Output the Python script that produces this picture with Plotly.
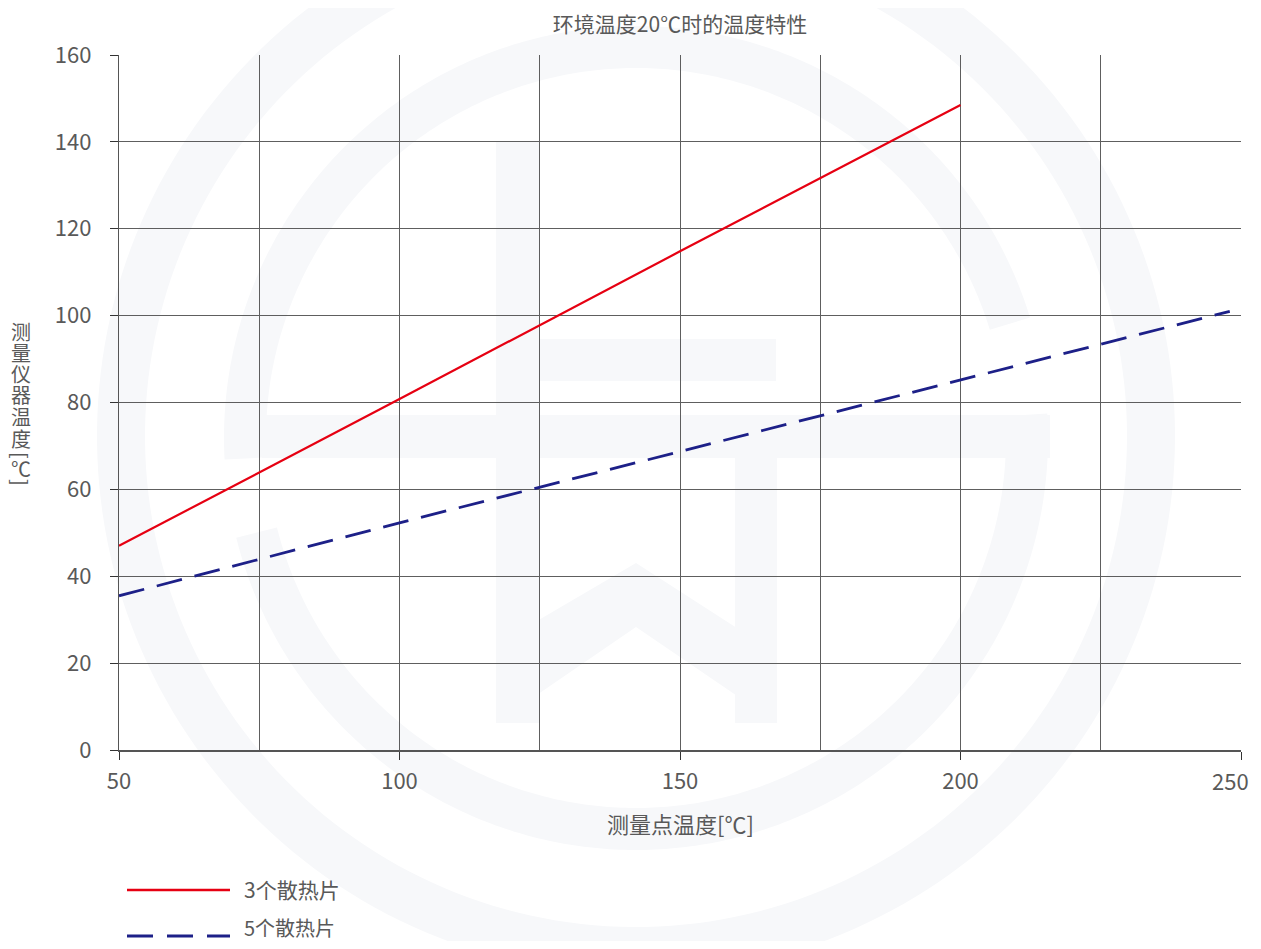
import numpy as np
import plotly.graph_objects as go

# ---------------- data ----------------
title_text = "环境温度20℃时的温度特性"
x_title = "测量点温度[℃]"
y_title_chars = ["测", "量", "仪", "器", "温", "度", "[", "℃", "]"]

series_names = ["3个散热片", "5个散热片"]
x_fin3 = [50, 100, 150, 200]
y_fin3 = [47.0, 80.8, 114.8, 148.5]
x_fin5 = [50, 100, 150, 200, 248]
y_fin5 = [35.5, 52.3, 68.7, 85.1, 101.0]

x_ticks = [50, 100, 150, 200, 250]
y_ticks = [0, 20, 40, 60, 80, 100, 120, 140, 160]

RED = "#e60012"
BLUE = "#1d2088"
TXT = "#595959"
GRID = "#5e5e5e"
WM = "#f7f8fa"
FONT = "Noto Sans CJK SC"

# ---------------- layout geometry (screen pixels) ----------------
SCREEN_W, SCREEN_H = 1261, 949
OFF = 8                      # default page body margin
W, H = SCREEN_W - 2 * OFF, SCREEN_H - 2 * OFF   # fit without scrollbars
L, R, T, B = 119, 1241, 55, 750   # plot area on screen


def px(x):
    return (x - L) / (R - L)


def py(y):
    return (B - y) / (B - T)


def path_from(points):
    return "M " + " L ".join(f"{px(a):.5f},{py(b):.5f}" for a, b in points) + " Z"


def annulus(cx, cy, r_in, r_out, a0, a1, n=240):
    ang = np.radians(np.linspace(a0, a1, n))
    outer = [(cx + r_out * np.cos(a), cy - r_out * np.sin(a)) for a in ang]
    inner = [(cx + r_in * np.cos(a), cy - r_in * np.sin(a)) for a in ang[::-1]]
    return path_from(outer + inner)


def rect(x0, y0, x1, y1):
    return path_from([(x0, y0), (x1, y0), (x1, y1), (x0, y1)])


# watermark logo (decoration)
wm_paths = [
    annulus(636, 436, 491, 539, 0, 360),
    annulus(636, 438, 370, 412, 17, 183),
    annulus(636, 438, 370, 412, 194, 363.4),
    rect(262, 415, 1050, 458),
    rect(496, 142, 539, 723),
    rect(496, 339, 776, 381),
    rect(735, 458, 777, 723),
    path_from([(496, 645), (636, 563), (777, 654), (777, 723), (636, 627), (496, 723)]),
]

shapes = [
    dict(type="path", path=p, xref="paper", yref="paper", fillcolor=WM,
         line=dict(width=0), layer="below")
    for p in wm_paths
]

# legend samples
shapes.append(dict(type="line", xref="paper", yref="paper",
                   x0=px(127), x1=px(230), y0=py(890), y1=py(890),
                   line=dict(color=RED, width=2.5), layer="above"))
shapes.append(dict(type="line", xref="paper", yref="paper",
                   x0=px(127), x1=px(230), y0=py(936), y1=py(936),
                   line=dict(color=BLUE, width=3, dash="26px,14px"), layer="above"))

annotations = []
for name, yy, fs in zip(series_names, [889, 927], [21, 20]):
    annotations.append(dict(text=name, x=px(242), y=py(yy), xref="paper", yref="paper",
                            xanchor="left", yanchor="middle", showarrow=False,
                            font=dict(family=FONT, size=fs, color=TXT)))

# vertical y-axis title (stacked characters, brackets turned)
y_pos = [331, 352, 373, 394, 416, 438, 455, 468, 482]
for ch, yy in zip(y_title_chars, y_pos):
    turned = ch in "[]"
    annotations.append(dict(text=ch, x=px(21), y=py(yy), xref="paper", yref="paper",
                            xanchor="center", yanchor="middle", showarrow=False,
                            textangle=90 if turned else 0,
                            font=dict(family=FONT, size=20, color=TXT)))

# x-axis title
annotations.append(dict(text=x_title, x=px(680), y=py(823), xref="paper", yref="paper",
                        xanchor="center", yanchor="middle", showarrow=False,
                        font=dict(family=FONT, size=22, color=TXT)))

# last x tick label: kept inside the figure edge (anchored to the axis value)
annotations.append(dict(text=str(x_ticks[-1]), x=x_ticks[-1], xref="x",
                        y=py(780), yref="paper", xanchor="right", yanchor="middle",
                        xshift=10, showarrow=False,
                        font=dict(family=FONT, size=22, color=TXT)))

fig = go.Figure()
fig.add_trace(go.Scatter(x=x_fin3, y=y_fin3, mode="lines", name=series_names[0],
                         line=dict(color=RED, width=2.2)))
fig.add_trace(go.Scatter(x=x_fin5, y=y_fin5, mode="lines", name=series_names[1],
                         line=dict(color=BLUE, width=2.8, dash="26px,13px")))

fig.update_layout(
    width=W, height=H,
    margin=dict(l=L - OFF, r=(OFF + W) - R, t=T - OFF, b=(OFF + H) - B, pad=0),
    paper_bgcolor="white",
    plot_bgcolor="rgba(0,0,0,0)",
    showlegend=False,
    font=dict(family=FONT, color=TXT),
    title=dict(text=title_text, x=px(680), xref="paper", xanchor="center",
               y=1 - (25 - OFF) / H, yref="container", yanchor="middle",
               font=dict(family=FONT, size=21, color=TXT)),
    shapes=shapes,
    annotations=annotations,
)

x_ticktext = [str(v) for v in x_ticks]
x_ticktext[-1] = ""   # drawn by the annotation above

fig.update_xaxes(
    range=[50, 250], tickvals=x_ticks, ticktext=x_ticktext,
    showgrid=True, gridcolor=GRID, gridwidth=1,
    minor=dict(dtick=25, tick0=50, showgrid=True, gridcolor=GRID, gridwidth=1, ticks=""),
    ticks="outside", ticklen=8, tickcolor="#333333", tickwidth=1.2,
    showline=True, linecolor="#555555", linewidth=1.5,
    zeroline=False, ticklabelstandoff=3,
    tickfont=dict(family=FONT, size=22, color=TXT),
)
fig.update_yaxes(
    range=[0, 160], tickvals=y_ticks, ticktext=[str(v) for v in y_ticks],
    showgrid=True, gridcolor=GRID, gridwidth=1,
    ticks="outside", ticklen=8, tickcolor="#333333", tickwidth=1.2,
    showline=True, linecolor="#555555", linewidth=1.2,
    zeroline=False, ticklabelstandoff=14,
    tickfont=dict(family=FONT, size=22, color=TXT),
)

fig.write_html("out.html")
